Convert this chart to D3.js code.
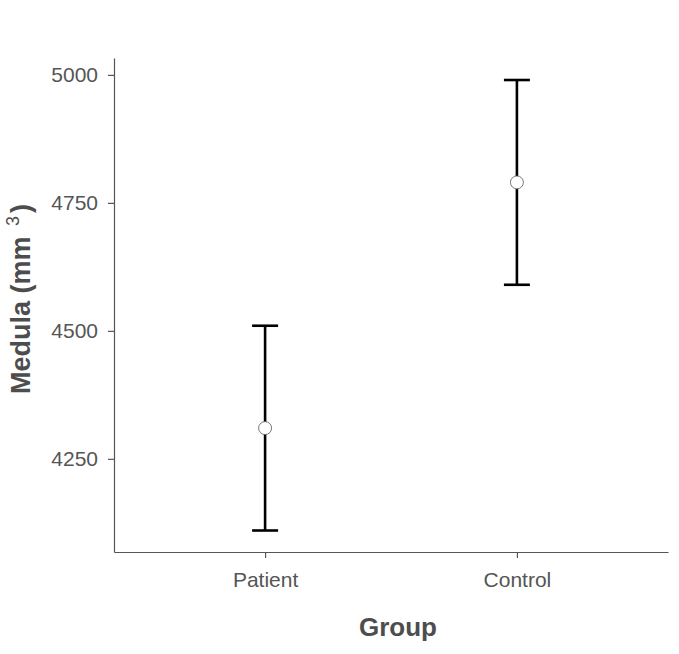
<!DOCTYPE html>
<html><head><meta charset="utf-8">
<script src="https://cdn.jsdelivr.net/npm/d3@7"></script>
<style>body{margin:0;background:#fff}</style>
</head><body>
<svg id="c" width="679" height="654"></svg>
<script>
const groups = ["Patient", "Control"];
const means = [4310, 4790];
const lower = [4110, 4590];
const upper = [4510, 4990];
const yTicks = [4250, 4500, 4750, 5000];

const W = 679, H = 654;
const m = {left: 114, right: 668, top: 58, bottom: 552};
const svg = d3.select("#c");
const font = "'Liberation Sans', Arial, Helvetica, sans-serif";

const y = d3.scaleLinear().domain([4068, 5033]).range([m.bottom, m.top]);
const xi = d3.scaleLinear().domain([0.4, 2.6]).range([m.left, m.right]);
const x = g => xi(groups.indexOf(g) + 1);

// axes
const ya = svg.append("g").attr("transform", `translate(${m.left},0)`)
  .call(d3.axisLeft(y).tickValues(yTicks).tickSizeInner(6).tickSizeOuter(0).tickPadding(10).tickFormat(d3.format("d")));
const xa = svg.append("g").attr("transform", `translate(0,${m.bottom})`)
  .call(d3.axisBottom(xi).tickValues([1, 2]).tickSizeInner(6).tickSizeOuter(0).tickPadding(14).tickFormat(d => groups[d - 1]));
[ya, xa].forEach(a => {
  a.attr("font-size", null).attr("font-family", null);
  a.select(".domain").attr("stroke", "#555").attr("stroke-width", 1.2);
  a.selectAll(".tick line").attr("stroke", "#555").attr("stroke-width", 1.2);
  a.selectAll(".tick text").attr("fill", "#555").style("font-family", font).style("font-size", "21px");
});

// error bars
const cap = 13;
const eb = svg.append("g");
groups.forEach((g, i) => {
  eb.append("line").attr("x1", x(g)).attr("x2", x(g)).attr("y1", y(lower[i])).attr("y2", y(upper[i]))
    .attr("stroke", "#000").attr("stroke-width", 2.6);
  [lower[i], upper[i]].forEach(v => {
    eb.append("line").attr("x1", x(g) - cap).attr("x2", x(g) + cap).attr("y1", y(v)).attr("y2", y(v))
      .attr("stroke", "#000").attr("stroke-width", 2.6);
  });
});
// points
svg.append("g").selectAll("circle").data(groups).join("circle")
  .attr("cx", d => x(d)).attr("cy", (d, i) => y(means[i])).attr("r", 6.5)
  .attr("fill", "#fff").attr("stroke", "#555").attr("stroke-width", 0.8);

// titles
svg.append("text").attr("x", 398).attr("y", 636).attr("text-anchor", "middle")
  .attr("fill", "#4d4d4d").style("font-family", font).style("font-size", "26px").style("font-weight", "bold")
  .text("Group");
const yt = svg.append("text").attr("transform", `translate(30,299) rotate(-90)`)
  .attr("text-anchor", "middle").attr("fill", "#4d4d4d").style("font-family", font)
  .style("font-size", "27px").style("font-weight", "bold");
yt.append("tspan").text("Medula (mm ");
yt.append("tspan").attr("dy", -11).attr("dx", 3).style("font-size", "18px").style("font-weight", "normal").text("3");
yt.append("tspan").attr("dy", 11).attr("dx", 3).text(")");
</script>
</body></html>
